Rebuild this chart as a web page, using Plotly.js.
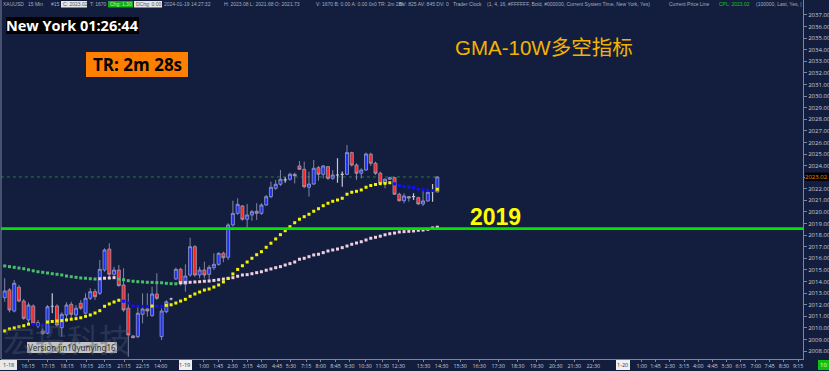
<!DOCTYPE html>
<html><head><meta charset="utf-8">
<script src="https://cdn.plot.ly/plotly-3.0.1.min.js"></script>
<style>html,body{margin:0;padding:0;background:#131e3f;overflow:hidden}#chart{width:829px;height:371px}</style>
</head><body><div id="chart"></div>
<script>
// ---- data (XAUUSD 15 min) ----
const openP = [2012.60,2013.27,2011.45,2013.50,2012.31,2010.68,2011.88,2010.44,2009.73,2009.53,
2011.86,2011.88,2010.01,2011.11,2012.03,2011.11,2012.12,2011.26,2012.55,2013.12,
2012.98,2014.99,2016.80,2014.62,2014.99,2013.70,2011.69,2009.30,2009.24,2011.17,
2011.63,2011.05,2012.92,2009.24,2011.39,2012.49,2014.22,2015.05,2013.76,2014.56,
2017.00,2014.56,2014.99,2014.62,2015.19,2015.48,2016.43,2016.09,2018.88,2019.88,
2020.52,2019.37,2019.74,2020.06,2019.88,2020.60,2021.32,2022.04,2022.39,2022.76,
2022.82,2023.25,2023.97,2023.68,2022.13,2022.41,2023.82,2023.25,2023.91,2022.90,
2023.19,2023.25,2023.25,2025.12,2024.05,2023.34,2023.62,2024.98,2024.20,2023.34,
2022.47,2022.82,2022.96,2021.53,2020.97,2021.32,2021.32,2021.23,2020.69,2020.95,
2021.75,2021.73];
const highP = [2014.28,2013.42,2014.13,2013.70,2012.49,2012.20,2012.03,2010.68,2009.96,2011.97,
2012.98,2012.03,2011.34,2012.20,2012.25,2011.97,2012.40,2012.98,2013.42,2013.35,
2015.85,2016.86,2017.30,2015.27,2015.42,2015.14,2012.98,2009.38,2011.82,2012.98,
2012.98,2013.55,2014.71,2011.69,2012.40,2012.60,2015.19,2015.19,2015.48,2017.78,
2017.15,2015.27,2015.71,2015.42,2016.43,2016.52,2016.57,2019.02,2020.97,2021.18,
2020.60,2020.69,2020.17,2020.75,2020.75,2021.47,2022.61,2022.76,2023.62,2022.99,
2023.39,2023.39,2024.40,2024.34,2023.48,2024.49,2023.97,2024.05,2023.97,2023.62,
2024.63,2023.48,2025.78,2025.20,2024.20,2023.77,2025.12,2025.12,2024.34,2023.48,
2022.90,2023.04,2023.04,2021.66,2021.61,2021.38,2021.61,2021.32,2021.90,2021.75,
2022.41,2023.08];
const lowP = [2012.25,2011.34,2011.34,2012.20,2010.68,2010.24,2010.24,2009.96,2009.38,2009.44,
2011.26,2010.10,2009.24,2010.53,2010.68,2010.68,2011.54,2011.17,2012.40,2012.40,
2012.83,2014.84,2014.41,2014.41,2013.55,2011.39,2007.51,2009.10,2009.10,2010.39,
2010.96,2010.96,2012.40,2008.95,2011.26,2012.38,2014.13,2013.64,2013.12,2014.41,
2014.41,2014.27,2014.27,2014.13,2014.99,2015.36,2015.66,2015.85,2018.73,2019.74,
2019.24,2018.44,2019.24,2019.31,2019.74,2020.52,2021.18,2021.90,2022.24,2022.53,
2022.70,2022.47,2023.62,2022.04,2021.32,2022.33,2022.70,2022.90,2022.76,2022.76,
2022.53,2022.18,2023.19,2023.91,2022.76,2022.90,2023.54,2023.97,2023.19,2022.33,
2022.04,2022.76,2021.47,2020.89,2020.75,2020.89,2021.03,2020.60,2020.52,2020.89,
2020.89,2021.68];
const closeP = [2013.18,2011.54,2013.85,2012.31,2010.82,2011.97,2010.39,2010.16,2009.50,2011.82,
2011.86,2010.24,2011.17,2011.97,2011.17,2011.69,2011.69,2012.55,2013.12,2012.69,
2015.05,2016.72,2014.62,2014.99,2013.64,2011.54,2009.38,2009.15,2011.26,2011.63,
2011.45,2012.92,2012.55,2011.45,2012.25,2012.49,2015.05,2013.78,2014.47,2017.00,
2014.56,2014.99,2014.56,2015.22,2015.48,2016.43,2016.05,2018.88,2019.88,2020.66,
2019.37,2019.74,2020.02,2019.88,2020.60,2021.32,2022.13,2022.39,2022.82,2022.76,
2023.25,2023.13,2023.68,2022.18,2022.41,2023.77,2023.25,2023.97,2022.90,2023.19,
2023.19,2023.25,2025.12,2024.05,2023.34,2023.62,2025.00,2024.20,2023.34,2022.47,
2022.82,2022.96,2021.53,2020.97,2021.38,2021.20,2021.32,2020.69,2020.95,2021.70,
2021.75,2023.02];
const fastMA = [2009.73,2009.90,2009.99,2010.10,2010.18,2010.32,2010.30,2010.28,2010.26,2010.50,
2010.55,2010.59,2010.62,2010.68,2010.74,2010.79,2010.87,2010.99,2011.11,2011.28,
2011.48,2011.86,2012.06,2012.23,2012.38,2012.29,2012.14,2011.88,2011.86,2011.85,
2011.84,2011.88,2011.87,2011.86,2011.94,2011.99,2012.14,2012.31,2012.46,2012.72,
2012.92,2013.09,2013.26,2013.35,2013.52,2013.70,2013.96,2014.26,2014.65,2015.04,
2015.36,2015.68,2016.00,2016.31,2016.57,2016.95,2017.30,2017.67,2018.04,2018.38,
2018.73,2019.07,2019.37,2019.59,2019.80,2020.06,2020.28,2020.54,2020.75,2020.92,
2021.03,2021.18,2021.53,2021.70,2021.78,2021.90,2022.13,2022.28,2022.37,2022.44,
2022.47,2022.52,2022.43,2022.27,2022.18,2022.15,2022.09,2021.96,2021.90,2021.87,
2021.84,2021.96];
const slowMA = [2015.34,2015.28,2015.22,2015.16,2015.10,2015.01,2014.92,2014.84,2014.79,2014.73,
2014.67,2014.62,2014.56,2014.47,2014.41,2014.36,2014.30,2014.28,2014.24,2014.21,
2014.24,2014.28,2014.30,2014.33,2014.21,2014.15,2014.07,2014.02,2013.98,2013.96,
2013.93,2013.92,2013.90,2013.89,2013.84,2013.81,2013.80,2013.90,2013.92,2013.93,
2013.96,2013.98,2014.02,2014.04,2014.09,2014.15,2014.21,2014.27,2014.33,2014.45,
2014.56,2014.59,2014.67,2014.76,2014.84,2014.97,2015.08,2015.19,2015.28,2015.42,
2015.54,2015.68,2015.92,2016.00,2016.14,2016.29,2016.35,2016.49,2016.63,2016.72,
2016.80,2016.92,2017.06,2017.21,2017.32,2017.43,2017.58,2017.73,2017.81,2017.91,
2018.03,2018.12,2018.18,2018.27,2018.30,2018.33,2018.36,2018.42,2018.44,2018.50,
2018.62,2018.68];
const tickText = ['16:15','17:15','18:15','19:15','20:15','21:15','22:15','14:00',
 '1:00','1:45','2:30','3:15','4:00','4:45','5:30','7:15','8:00','8:45','9:30','10:30','11:30','12:30',
 '13:30','14:30','15:30','16:30','17:30','18:30','19:30','20:30','21:30','22:30',
 '1:00','1:45','2:30','3:15','4:00','4:45','5:30','6:15','7:00','7:45','8:30','9:15'];
const tickPos = [4.9,9.1,13.1,17.2,21.0,25.1,29.0,32.8,
 41.9,44.9,47.9,51.1,54.1,57.3,60.2,63.4,66.5,69.6,72.5,75.8,79.4,82.8,
 88.1,91.9,95.8,99.8,103.8,107.9,111.9,115.9,119.8,123.8,
 134.0,136.9,139.9,142.9,145.9,148.9,151.9,154.8,158.0,160.9,163.9,166.9];
const dateLabels = ['1-18','1-19','1-20'];
const datePos = [0.75,37.9,130.0];
const supportLevel = 2018.56, supportLabel = '2019';
const lastPrice = 2023.02;
const yTickVals = []; for (let v = 2008; v <= 2037; v++) yTickVals.push(v);

// ---- geometry helpers ----
const W=829,H=371,ML=1,MR=26,MT=0,MB=12,PW=W-ML-MR,PH=H-MT-MB;
const px = x => (x-ML)/PW, py = y => 1-(y-MT)/PH;
const BG = '#131e3f';

const idx = openP.map((_,i)=>i);
function subset(f){ const ii = idx.filter(f); return {x:ii, open:ii.map(i=>openP[i]), high:ii.map(i=>highP[i]), low:ii.map(i=>lowP[i]), close:ii.map(i=>closeP[i])}; }
const wick = '#9aa0bc';
function candle(d, fill, lc, lw){ const s={line:{color:lc||wick,width:lw||0.8},fillcolor:fill};
  return Object.assign({type:'candlestick', hoverinfo:'skip', whiskerwidth:0, increasing:s, decreasing:s}, d); }
const traces = [
 candle(subset(i=>closeP[i]>openP[i]), '#1c30ff'),
 candle(subset(i=>closeP[i]<openP[i]), '#ff2424'),
 candle(subset(i=>closeP[i]===openP[i]), '#d8d8e0', '#c8c8d4', 1.2),
 {type:'scatter', mode:'markers', x:idx, y:slowMA, hoverinfo:'skip',
  marker:{symbol:'square', size:3, line:{width:0}, color:slowMA.map((v,i)=> i>0 && v>=slowMA[i-1] ? '#f2cfe0' : '#48c068')}},
 {type:'scatter', mode:'markers', x:idx, y:fastMA, hoverinfo:'skip',
  marker:{symbol:'square', size:3, line:{width:0}, color:fastMA.map((v,i)=> i===0 || v>=fastMA[i-1] ? '#f4f400' : '#1010ff')}}
];

const hdrFont = {family:'Liberation Sans, Arial, sans-serif', size:5, color:'#a8acb8'};
function hdr(x, text, extra){ return Object.assign({xref:'paper',yref:'paper',x:px(x),y:py(4),xanchor:'left',yanchor:'middle',showarrow:false,text:text,font:hdrFont,borderpad:0}, extra||{}); }
const boxFont = Object.assign({}, hdrFont, {color:'#555'});
const rect = (x0,x1,y0,y1,c) => ({type:'rect', xref:'paper', yref:'paper', x0:px(x0), x1:px(x1), y0:py(y1), y1:py(y0), fillcolor:c, line:{width:0}, layer:'above'});

const shapes = [
 {type:'line', xref:'paper', yref:'y', x0:0, x1:1, y0:supportLevel, y1:supportLevel, line:{color:'#00e400', width:2.6}, layer:'above'},
 {type:'line', xref:'x', yref:'y', x0:-0.8, x1:idx.length-1, y0:lastPrice, y1:lastPrice, line:{color:'#2a7a3a', width:1, dash:'dot'}, layer:'below'},
 {type:'line', xref:'paper', yref:'paper', x0:0, x1:0, y0:0, y1:1, line:{color:'#7d859c', width:1}},
 rect(61,87,1,7.5,'#e6e6e6'), rect(108,133,1,7.5,'#10b010'), rect(134,162,1,7.5,'#e6e6e6'),
 rect(6,139,17,34,'#000000'),
 rect(86,188,52,77,'#ff8000'),
 rect(27,117,342,353,'#c4c4c4'),
 rect(805,829,172.5,181,'#000000'),
 rect(0,17,360,370,'#e8e8e8'), rect(179,192,360,370,'#f0f0f0'), rect(616,630,360,370,'#f0f0f0'),
 rect(818,829,360,370,'#10c010')
];

const annotations = [
 {xref:'paper',yref:'paper',x:px(2),y:py(338),xanchor:'left',yanchor:'middle',showarrow:false,text:'宏投科技',borderpad:0,
  font:{family:'Noto Sans CJK SC',size:32,color:'rgba(75,86,112,0.42)'}},
 hdr(2,'XAUUSD'), hdr(27,'15 Min'), hdr(50,'#15'),
 hdr(62,'C: 2023.02',{font:boxFont}), hdr(89,'T: 1670'), hdr(109,'Chg: 1.30',{font:Object.assign({},hdrFont,{color:'#cfe8cf'})}),
 hdr(135,'DChg: 0.00',{font:boxFont}),
 hdr(163,'2024-01-19 14:27:32'), hdr(223,'H: 2023.08 L: 2021.68 O: 2021.73'),
 hdr(315,'V: 1670 B: 0.00 A: 0.00 0x0 TR: 2m 28s'), hdr(398,'BV: 825 AV: 845 DV: 0'),
 hdr(452,'Trader Clock'), hdr(486,'(1, 4, 16, #FFFFFF, Bold, #000000, Current System Time, New York, Yes)'),
 hdr(668,'Current Price Line'), hdr(718,'CPL: 2023.02',{font:Object.assign({},hdrFont,{color:'#20c020'})}),
 hdr(755,'(100000, Last, Yes, |'),
 {xref:'paper',yref:'paper',x:px(72.5),y:py(25.5),xanchor:'center',yanchor:'middle',showarrow:false,text:'<b>New York 01:26:44</b>',
  font:{family:'Open Sans',size:14.5,color:'#ffffff'}},
 {xref:'paper',yref:'paper',x:px(137),y:py(64.5),xanchor:'center',yanchor:'middle',showarrow:false,text:'<b>TR: 2m 28s</b>',
  font:{family:'Open Sans',size:17,color:'#000000'}},
 {xref:'paper',yref:'paper',x:px(453),y:py(47.5),xanchor:'left',yanchor:'middle',showarrow:false,text:'GMA-10W多空指标',
  font:{family:'Liberation Sans, Noto Sans CJK SC',size:20.5,color:'#f2b400'}},
 {xref:'paper',yref:'paper',x:px(468),y:py(216.5),xanchor:'left',yanchor:'middle',showarrow:false,text:'<b>'+supportLabel+'</b>',
  font:{family:'Liberation Sans',size:23,color:'#ffff00'}},
 {xref:'paper',yref:'paper',x:px(72),y:py(347.5),xanchor:'center',yanchor:'middle',showarrow:false,text:'Version jin10yunying16',
  font:{family:'Noto Sans, sans-serif',size:8,color:'#303030'}},
 {xref:'paper',yref:'y',x:px(817),y:lastPrice,xanchor:'center',yanchor:'middle',showarrow:false,text:lastPrice.toFixed(2),
  font:{family:'Open Sans',size:6,color:'#ff8c00'}},
 {xref:'paper',yref:'paper',x:px(823.5),y:py(365),xanchor:'center',yanchor:'middle',showarrow:false,text:'10',
  font:{family:'Open Sans',size:6,color:'#e8ffe8'}}
];
dateLabels.forEach((t,k)=>annotations.push({xref:'x',yref:'paper',x:datePos[k],y:py(365),xanchor:'center',yanchor:'middle',showarrow:false,text:t,
  font:{family:'Open Sans',size:5.5,color:'#303040'}}));

const layout = {
 width:W, height:H, margin:{l:ML,r:MR,t:MT,b:MB,pad:0},
 paper_bgcolor:BG, plot_bgcolor:BG, showlegend:false, hovermode:false,
 boxgap:0.2, boxgroupgap:0.2,
 xaxis:{range:[-0.78,167.92], tickmode:'array', tickvals:tickPos, ticktext:tickText, showgrid:false, zeroline:false,
  showline:true, linecolor:'#7d859c', linewidth:1, ticks:'outside', ticklen:2, tickcolor:'#7d859c',
  tickfont:{family:'Open Sans',size:5.3,color:'#c8ccd6'}, rangeslider:{visible:false}, fixedrange:true, tickangle:0},
 yaxis:{side:'right', range:[2007.31,2038.29], tickmode:'array', tickvals:yTickVals,
  ticktext:yTickVals.map(v=> Math.abs(v-lastPrice)<0.5 ? '' : v.toFixed(2)),
  showgrid:false, zeroline:false, showline:true, linecolor:'#7d859c', linewidth:1, ticks:'outside', ticklen:3, tickcolor:'#7d859c',
  tickfont:{family:'Open Sans',size:6,color:'#c8ccd6'}, fixedrange:true},
 shapes:shapes, annotations:annotations
};
Plotly.newPlot('chart', traces, layout, {displayModeBar:false, staticPlot:true});
</script></body></html>
